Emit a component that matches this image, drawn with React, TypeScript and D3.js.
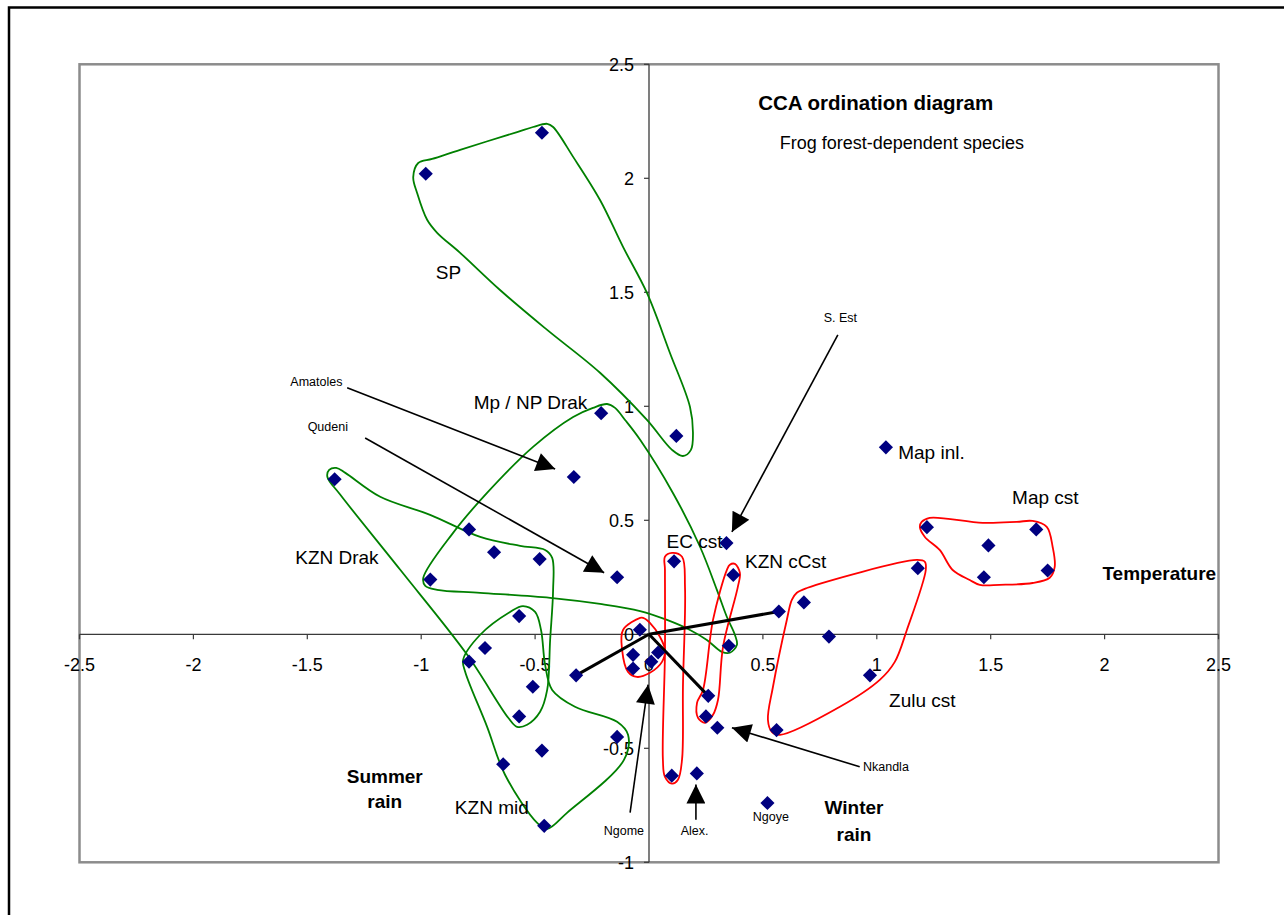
import * as d3 from "d3";

type Pt = [number, number];

const xTicks = [-2.5, -2, -1.5, -1, -0.5, 0, 0.5, 1, 1.5, 2, 2.5];
const yTicks = [-1, -0.5, 0, 0.5, 1, 1.5, 2, 2.5];

// site scores (axis 1, axis 2)
const sites: Pt[] = [
  [-0.98, 2.02], [-0.47, 2.2], [0.12, 0.87], [-0.21, 0.97], [-0.33, 0.69],
  [-1.38, 0.68], [-0.79, 0.46], [-0.68, 0.36], [-0.48, 0.33], [-0.96, 0.24],
  [-0.14, 0.25], [-0.57, 0.08], [-0.72, -0.06], [-0.79, -0.12], [-0.51, -0.23],
  [-0.57, -0.36], [-0.32, -0.18], [-0.14, -0.45], [-0.47, -0.51], [-0.64, -0.57],
  [-0.46, -0.84], [-0.04, 0.02], [-0.07, -0.09], [-0.07, -0.15], [0.04, -0.08],
  [0.01, -0.12], [0.35, -0.05], [0.26, -0.27], [0.25, -0.36], [0.3, -0.41],
  [0.1, -0.62], [0.21, -0.61], [0.52, -0.74], [1.04, 0.82], [0.34, 0.4],
  [0.11, 0.32], [0.37, 0.26], [0.57, 0.1], [0.68, 0.14], [1.18, 0.29],
  [1.22, 0.47], [1.49, 0.39], [1.7, 0.46], [1.75, 0.28], [1.47, 0.25],
  [0.79, -0.01], [0.97, -0.18], [0.56, -0.42],
];

// environmental biplot vectors
const envVectors: Pt[] = [[0.57, 0.1], [-0.32, -0.18], [0.26, -0.27]];

// hand-drawn group outlines
const hullSP: Pt[] = [
  [-1.035, 2.005], [-1.013, 2.067], [-0.952, 2.085], [-0.829, 2.125], [-0.579, 2.203],
  [-0.509, 2.225], [-0.447, 2.239], [-0.421, 2.225], [-0.333, 2.094], [-0.215, 1.905],
  [-0.114, 1.699], [-0.009, 1.497], [0.092, 1.234], [0.18, 0.997], [0.193, 0.883],
  [0.184, 0.809], [0.149, 0.782], [0.101, 0.809], [-0.009, 0.94], [-0.215, 1.147],
  [-0.447, 1.335], [-0.654, 1.51], [-0.829, 1.673], [-0.93, 1.761], [-0.974, 1.818],
  [-1.018, 1.936],
];
const hullMpNP: Pt[] = [
  [-0.184, 1.01], [-0.149, 0.993], [-0.105, 0.94], [-0.039, 0.853], [0.105, 0.62],
  [0.224, 0.384], [0.298, 0.195], [0.342, 0.076], [0.377, -0.002], [0.386, -0.046],
  [0.355, -0.081], [0.32, -0.077], [0.254, -0.025], [0.18, 0.019], [0.079, 0.063],
  [-0.039, 0.102], [-0.215, 0.133], [-0.434, 0.16], [-0.741, 0.182], [-0.93, 0.195],
  [-0.982, 0.212], [-0.991, 0.247], [-0.86, 0.445], [-0.711, 0.62], [-0.509, 0.822],
  [-0.333, 0.953], [-0.246, 0.993],
];
const hullKznDrak: Pt[] = [
  [-1.412, 0.691], [-1.404, 0.721], [-1.373, 0.73], [-1.333, 0.708], [-1.18, 0.603],
  [-0.961, 0.524], [-0.741, 0.427], [-0.566, 0.388], [-0.456, 0.37], [-0.425, 0.335],
  [-0.421, 0.195], [-0.434, -0.025], [-0.447, -0.244], [-0.478, -0.34], [-0.535, -0.397],
  [-0.579, -0.406], [-0.618, -0.366], [-0.798, -0.09], [-1.092, 0.283], [-1.355, 0.612],
];
const hullKznMid: Pt[] = [
  [-0.553, 0.124], [-0.5, 0.098], [-0.474, 0.019], [-0.456, -0.134], [-0.425, -0.244],
  [-0.325, -0.318], [-0.14, -0.384], [-0.092, -0.441], [-0.11, -0.551], [-0.36, -0.783],
  [-0.447, -0.853], [-0.491, -0.827], [-0.632, -0.616], [-0.711, -0.405], [-0.807, -0.164],
  [-0.816, -0.112], [-0.741, -0.002], [-0.61, 0.098],
];
const hullOrigin: Pt[] = [
  [-0.039, 0.072], [-0.114, 0.019], [-0.118, -0.068], [-0.092, -0.165], [-0.053, -0.187],
  [0.004, -0.169], [0.057, -0.121], [0.07, -0.068], [0.048, -0.011], [0.004, 0.05],
  [-0.026, 0.072],
];
const hullEcCst: Pt[] = [
  [0.07, 0.34], [0.101, 0.357], [0.145, 0.34], [0.158, 0.208], [0.149, -0.23],
  [0.145, -0.55], [0.127, -0.638], [0.101, -0.655], [0.07, -0.625], [0.061, -0.55],
  [0.07, -0.081], [0.07, 0.283],
];
const hullKznCcst: Pt[] = [
  [0.377, 0.309], [0.399, 0.269], [0.39, 0.208], [0.325, -0.055], [0.303, -0.287],
  [0.281, -0.353], [0.246, -0.388], [0.215, -0.366], [0.211, -0.3], [0.237, -0.244],
  [0.281, 0.063], [0.342, 0.283], [0.355, 0.305],
];
const hullZulu: Pt[] = [
  [0.649, 0.182], [0.693, 0.203], [1.175, 0.326], [1.211, 0.318], [1.215, 0.282],
  [1.132, 0.019], [1.079, -0.121], [1.013, -0.2], [0.838, -0.318], [0.575, -0.441],
  [0.539, -0.428], [0.522, -0.375], [0.544, -0.231], [0.605, 0.063], [0.627, 0.151],
];
const hullMapCst: Pt[] = [
  [1.189, 0.471], [1.197, 0.493], [1.232, 0.511], [1.465, 0.489], [1.614, 0.493],
  [1.684, 0.497], [1.746, 0.471], [1.772, 0.383], [1.781, 0.296], [1.759, 0.248],
  [1.684, 0.225], [1.539, 0.217], [1.452, 0.217], [1.408, 0.238], [1.333, 0.282],
  [1.276, 0.37], [1.211, 0.427],
];

const greenHulls = [hullSP, hullMpNP, hullKznDrak, hullKznMid];
const redHulls = [hullOrigin, hullEcCst, hullKznCcst, hullZulu, hullMapCst];

const groupNames = ["SP", "Mp / NP Drak", "KZN Drak", "KZN mid", "EC cst", "KZN cCst", "Map inl.", "Map cst", "Zulu cst"];
const groupPos: Pt[] = [
  [-0.88, 1.59], [-0.52, 1.02], [-1.37, 0.34], [-0.69, -0.76], [0.2, 0.41],
  [0.6, 0.32], [1.24, 0.8], [1.74, 0.6], [1.2, -0.29],
];

const envLabelLines = ["Temperature", "Summer", "rain", "Winter", "rain"];
const envLabelPos: Pt[] = [[2.24, 0.27], [-1.16, -0.62], [-1.16, -0.73], [0.9, -0.76], [0.9, -0.875]];

const siteNames = ["Amatoles", "Qudeni", "S. Est", "Nkandla", "Alex.", "Ngome", "Ngoye"];
const siteNamePos: Pt[] = [
  [-1.46, 1.11], [-1.41, 0.91], [0.84, 1.39], [1.04, -0.58], [0.2, -0.86], [-0.11, -0.86], [0.535, -0.8],
];
const pointerFrom: Pt[] = [[-1.325, 1.081], [-1.246, 0.861], [0.829, 1.313], [0.925, -0.581], [0.206, -0.813], [-0.083, -0.782]];
const pointerTo: Pt[] = [[-0.412, 0.725], [-0.197, 0.27], [0.364, 0.449], [0.364, -0.41], [0.206, -0.659], [-0.004, -0.221]];

const title = "CCA ordination diagram";
const subtitle = "Frog forest-dependent species";

const FONT = "'Liberation Sans', Arial, sans-serif";

export default function App() {
  const x = d3.scaleLinear().domain([-2.5, 2.5]).range([79.5, 1218.5]);
  const y = d3.scaleLinear().domain([-1, 2.5]).range([862.3, 64.3]);
  const x0 = x(0);
  const y0 = y(0);

  const outline = d3
    .line<Pt>()
    .x((d) => x(d[0]))
    .y((d) => y(d[1]))
    .curve(d3.curveCatmullRomClosed.alpha(0.5));

  const diamond = d3.symbol(d3.symbolSquare, 100)() ?? "";

  return (
    <div style={{ position: "absolute", left: 0, top: 0 }}>
      <svg width={1284} height={915} style={{ display: "block", fontFamily: FONT }}>
        <defs>
          <marker
            id="tip"
            viewBox="0 0 10 10"
            refX="10"
            refY="5"
            markerUnits="userSpaceOnUse"
            markerWidth="22"
            markerHeight="19"
            orient="auto"
          >
            <path d="M0,0L10,5L0,10z" fill="#000" />
          </marker>
        </defs>
        <rect width={1284} height={915} fill="#fff" />
        <path d="M9,915V7.5H1284" fill="none" stroke="#000" strokeWidth={2.5} />

        <rect
          x={x(-2.5)}
          y={y(2.5)}
          width={x(2.5) - x(-2.5)}
          height={y(-1) - y(2.5)}
          fill="#fff"
          stroke="#8c8c8c"
          strokeWidth={2.5}
        />

        {/* axes through the origin */}
        <line x1={x(-2.5)} x2={x(2.5)} y1={y0} y2={y0} stroke="#3a3a3a" strokeWidth={1.3} />
        <line x1={x0} x2={x0} y1={y(2.5)} y2={y(-1)} stroke="#3a3a3a" strokeWidth={1.3} />
        {xTicks.map((t) => (
          <g key={`xt${t}`}>
            <line x1={x(t)} x2={x(t)} y1={y0} y2={y0 + 5} stroke="#3a3a3a" strokeWidth={1.2} />
            <text x={x(t)} y={y0 + 37} textAnchor="middle" fontSize={18} fill="#000">
              {String(t)}
            </text>
          </g>
        ))}
        {yTicks.map((t) => (
          <g key={`yt${t}`}>
            <line x1={x0 - 5} x2={x0} y1={y(t)} y2={y(t)} stroke="#3a3a3a" strokeWidth={1.2} />
            <text x={x0 - 15} y={y(t)} dy="0.36em" textAnchor="end" fontSize={18} fill="#000">
              {String(t)}
            </text>
          </g>
        ))}

        {greenHulls.map((h, i) => (
          <path key={`g${i}`} d={outline(h) ?? ""} fill="none" stroke="#008000" strokeWidth={1.8} />
        ))}
        {redHulls.map((h, i) => (
          <path key={`r${i}`} d={outline(h) ?? ""} fill="none" stroke="#ff0000" strokeWidth={1.8} />
        ))}

        {envVectors.map((v, i) => (
          <line key={`v${i}`} x1={x0} y1={y0} x2={x(v[0])} y2={y(v[1])} stroke="#000" strokeWidth={3} />
        ))}

        {sites.map((s, i) => (
          <path
            key={`s${i}`}
            d={diamond}
            transform={`translate(${x(s[0])},${y(s[1])}) rotate(45)`}
            fill="#000080"
          />
        ))}

        {pointerFrom.map((p, i) => (
          <line
            key={`p${i}`}
            x1={x(p[0])}
            y1={y(p[1])}
            x2={x(pointerTo[i][0])}
            y2={y(pointerTo[i][1])}
            stroke="#000"
            strokeWidth={1.6}
            markerEnd="url(#tip)"
          />
        ))}

        {groupNames.map((n, i) => (
          <text
            key={`gn${i}`}
            x={x(groupPos[i][0])}
            y={y(groupPos[i][1])}
            dy="0.36em"
            textAnchor="middle"
            fontSize={19}
            fill="#000"
          >
            {n}
          </text>
        ))}
        {envLabelLines.map((n, i) => (
          <text
            key={`el${i}`}
            x={x(envLabelPos[i][0])}
            y={y(envLabelPos[i][1])}
            dy="0.36em"
            textAnchor="middle"
            fontSize={19}
            fontWeight="bold"
            fill="#000"
          >
            {n}
          </text>
        ))}
        {siteNames.map((n, i) => (
          <text
            key={`sn${i}`}
            x={x(siteNamePos[i][0])}
            y={y(siteNamePos[i][1])}
            dy="0.36em"
            textAnchor="middle"
            fontSize={12.5}
            fill="#000"
          >
            {n}
          </text>
        ))}

        <text x={x(0.995)} y={y(2.33)} dy="0.36em" textAnchor="middle" fontSize={20.5} fontWeight="bold">
          {title}
        </text>
        <text x={x(1.11)} y={y(2.155)} dy="0.36em" textAnchor="middle" fontSize={18}>
          {subtitle}
        </text>
      </svg>
    </div>
  );
}
